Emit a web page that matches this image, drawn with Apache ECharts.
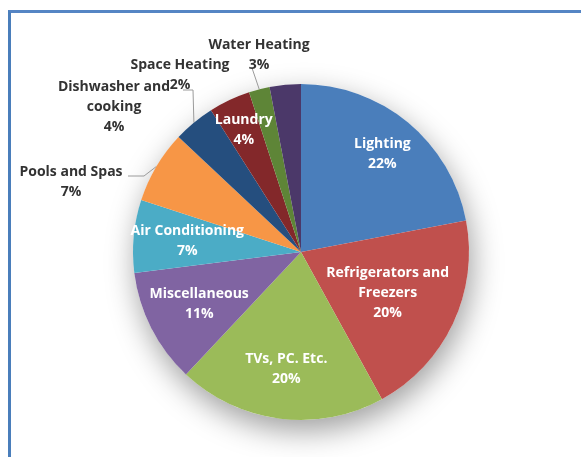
<!DOCTYPE html>
<html>
<head>
<meta charset="utf-8">
<script src="https://cdn.jsdelivr.net/npm/echarts@6/dist/echarts.min.js"></script>
<style>
  html, body { margin: 0; padding: 0; background: #fff; overflow: hidden; }
  #frame {
    position: absolute; left: 8px; top: 10px; width: 620px; height: 500px;
    border-top: 3px solid #5585c4; border-left: 3px solid #4a7ebb; box-sizing: border-box;
  }
  #chart { position: absolute; left: 0; top: 0; width: 581px; height: 457px; }
</style>
</head>
<body>
<div id="frame"></div>
<div id="chart"></div>
<script>
// Household electricity use by end use (%)
const categories = [
  'Lighting', 'Refrigerators and Freezers', 'TVs, PC. Etc.', 'Miscellaneous',
  'Air Conditioning', 'Pools and Spas', 'Dishwasher and cooking', 'Laundry',
  'Space Heating', 'Water Heating'
];
const shares = [22, 20, 20, 11, 7, 7, 4, 4, 2, 3];
const labelText = [
  'Lighting', 'Refrigerators and\nFreezers', 'TVs, PC. Etc.', 'Miscellaneous',
  'Air Conditioning', 'Pools and Spas', 'Dishwasher and\ncooking', 'Laundry',
  'Space Heating', 'Water Heating'
];
const sliceColors = [
  '#4a7ebb', '#c0504d', '#9bbb59', '#8064a2', '#4bacc6',
  '#f79646', '#254e7e', '#83282a', '#5e8537', '#4b3869'
];

// geometry of the pie
const CX = 301, CY = 252, R = 168;

// radial placement of labels drawn inside their slice (fraction of radius)
const insideFrac = { 0: 0.76, 1: 0.57, 2: 0.70, 3: 0.68, 4: 0.68, 7: 0.80 };
// labels placed beside the pie: [centerX, centerY]
const outsideAt = { 5: [71, 182], 6: [114, 107], 8: [180, 75], 9: [259, 55] };
// leader line bends and ends for outside labels
const leaderPath = {
  5: [[144, 176], [128, 176]],
  6: [[193, 90], [183, 90]],
  8: [[252, 68], [252, 68]]
};

const total = shares.reduce((a, b) => a + b, 0);
function midAngle(i) {
  let before = 0;
  for (let k = 0; k < i; k++) before += shares[k];
  return (before + shares[i] / 2) / total * Math.PI * 2;
}

const pieData = categories.map((name, i) => {
  const outside = outsideAt[i] !== undefined;
  return {
    name: name,
    value: shares[i],
    itemStyle: { color: sliceColors[i] },
    label: outside
      ? { position: 'outside', color: '#333333' }
      : { position: 'inside', color: '#ffffff' },
    labelLine: { show: outside && leaderPath[i] !== undefined }
  };
});

const chart = echarts.init(document.getElementById('chart'), null, { renderer: 'canvas' });

chart.setOption({
  backgroundColor: 'transparent',
  animation: false,
  series: [
    {
      // soft drop shadow under the pie
      type: 'pie',
      silent: true,
      z: 1,
      center: [CX, CY],
      radius: R,
      label: { show: false },
      labelLine: { show: false },
      itemStyle: {
        color: '#ffffff',
        shadowBlur: 30,
        shadowColor: 'rgba(0,0,0,0.38)',
        shadowOffsetX: 3,
        shadowOffsetY: 11
      },
      data: [{ value: 1, name: '' }]
    },
    {
      type: 'pie',
      z: 2,
      center: [CX, CY],
      radius: R,
      startAngle: 90,
      clockwise: true,
      avoidLabelOverlap: false,
      itemStyle: { borderWidth: 0 },
      label: {
        show: true,
        fontFamily: 'Open Sans',
        fontWeight: 'bold',
        fontSize: 14,
        lineHeight: 20,
        align: 'center',
        formatter: p => labelText[p.dataIndex] + '\n' + p.value + '%'
      },
      labelLine: {
        lineStyle: { color: '#9a9a9a', width: 1 },
        smooth: false
      },
      labelLayout: function (p) {
        const i = p.dataIndex;
        const a = midAngle(i);
        if (outsideAt[i]) {
          const pos = outsideAt[i];
          const res = { x: pos[0], y: pos[1], align: 'center', verticalAlign: 'middle' };
          if (leaderPath[i]) {
            const edge = [CX + R * Math.sin(a), CY - R * Math.cos(a)];
            res.labelLinePoints = [edge, leaderPath[i][0], leaderPath[i][1]];
          }
          return res;
        }
        const f = insideFrac[i];
        return {
          x: CX + f * R * Math.sin(a),
          y: CY - f * R * Math.cos(a),
          align: 'center',
          verticalAlign: 'middle'
        };
      },
      data: pieData
    }
  ]
});
</script>
</body>
</html>
